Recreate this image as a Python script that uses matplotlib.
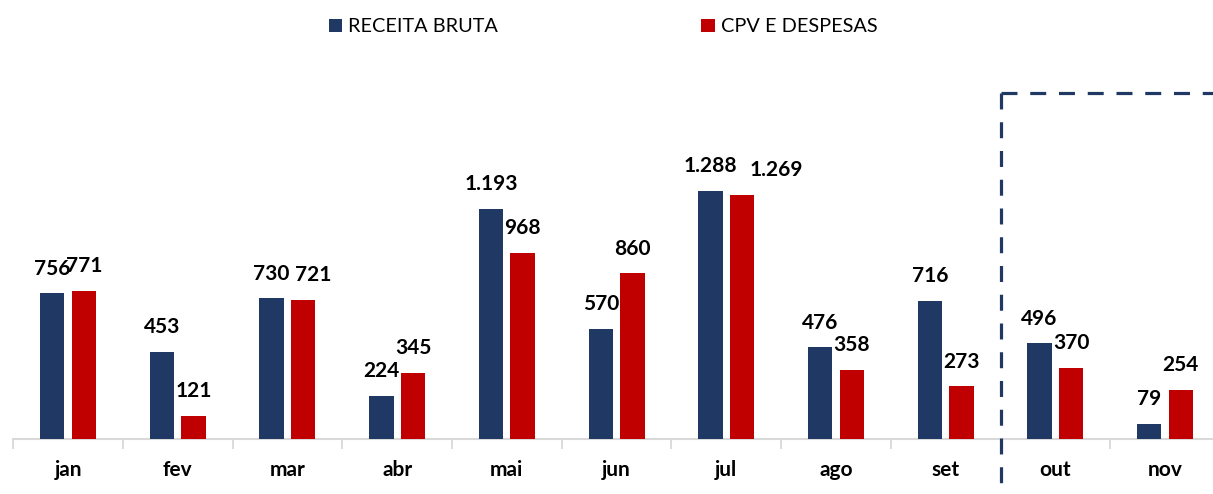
import matplotlib
matplotlib.use("Agg")
import matplotlib.pyplot as plt
import matplotlib.transforms as mtransforms
import numpy as np

months = ["jan", "fev", "mar", "abr", "mai", "jun", "jul", "ago", "set", "out", "nov"]
receita = [756, 453, 730, 224, 1193, 570, 1288, 476, 716, 496, 79]
cpv = [771, 121, 721, 345, 968, 860, 1269, 358, 273, 370, 254]
series_names = ["RECEITA BRUTA", "CPV E DESPESAS"]

BLUE = "#203864"
RED = "#c00000"
GRID = "#d9d9d9"
FONT = ["Lato", "DejaVu Sans"]

plt.rcParams["font.family"] = FONT

W, H = 1213, 494
fig = plt.figure(figsize=(W / 100, H / 100), dpi=100)

left_px, right_px = 13.2, 13.2 + 11 * 109.7
base_px, top_px = 439, 93
ax = fig.add_axes([left_px / W, (H - base_px) / H, (right_px - left_px) / W, (base_px - top_px) / H])

x = np.arange(len(months))
bw = 0.222
off = 0.144
b1 = ax.bar(x - off, receita, bw, color=BLUE, label=series_names[0], zorder=3)
b2 = ax.bar(x + off, cpv, bw, color=RED, label=series_names[1], zorder=3)

scale = 0.1926  # px per unit
ax.set_xlim(-0.5, len(months) - 0.5)
ax.set_ylim(0, (base_px - top_px) / scale)


def fmt(v):
    return f"{v:,}".replace(",", ".")


# label nudges (points) seen in the reference where labels would collide
nudge = {("cpv", "mar"): 7.5, ("cpv", "jul"): 25}

for bars, vals, sname in ((b1, receita, "rec"), (b2, cpv, "cpv")):
    for i, (r, v) in enumerate(zip(bars, vals)):
        dx = nudge.get((sname, months[i]), 0)
        ax.annotate(fmt(v), (r.get_x() + r.get_width() / 2, v),
                    xytext=(dx, 13.5), textcoords="offset points",
                    ha="center", va="baseline", fontsize=15, fontweight="bold",
                    color="black", zorder=5)

for s in ["top", "right", "left"]:
    ax.spines[s].set_visible(False)
ax.spines["bottom"].set_color(GRID)
ax.spines["bottom"].set_linewidth(1.5)
ax.set_yticks([])

ax.set_xticks(np.arange(-0.5, len(months), 1.0))
ax.set_xticklabels([])
ax.tick_params(axis="x", which="major", length=7, width=1.3, color=GRID, direction="out")
ax.set_xticks(x, minor=True)
ax.set_xticklabels(months, minor=True, fontsize=15, fontweight="bold")
ax.tick_params(axis="x", which="minor", length=0, pad=15)

# dashed projection frame
trans = mtransforms.blended_transform_factory(ax.transData, ax.transAxes)
ax.plot([8.5, 8.5], [1.0, -0.2], transform=trans, color=BLUE, lw=2.3,
        linestyle=(0, (5, 4)), clip_on=False, zorder=4)
ax.plot([8.5, 11.5], [1.0, 1.0], transform=trans, color=BLUE, lw=2.3,
        linestyle=(0, (5, 4)), clip_on=False, zorder=4)

fig.legend(handles=[b1, b2], labels=series_names, loc="center",
           bbox_to_anchor=(603 / W, 1 - 27 / H), ncol=2, frameon=False,
           fontsize=14.3, handlelength=0.7, handleheight=0.7, handletextpad=0.3,
           columnspacing=10.2)

fig.savefig("out.png", dpi=100)
